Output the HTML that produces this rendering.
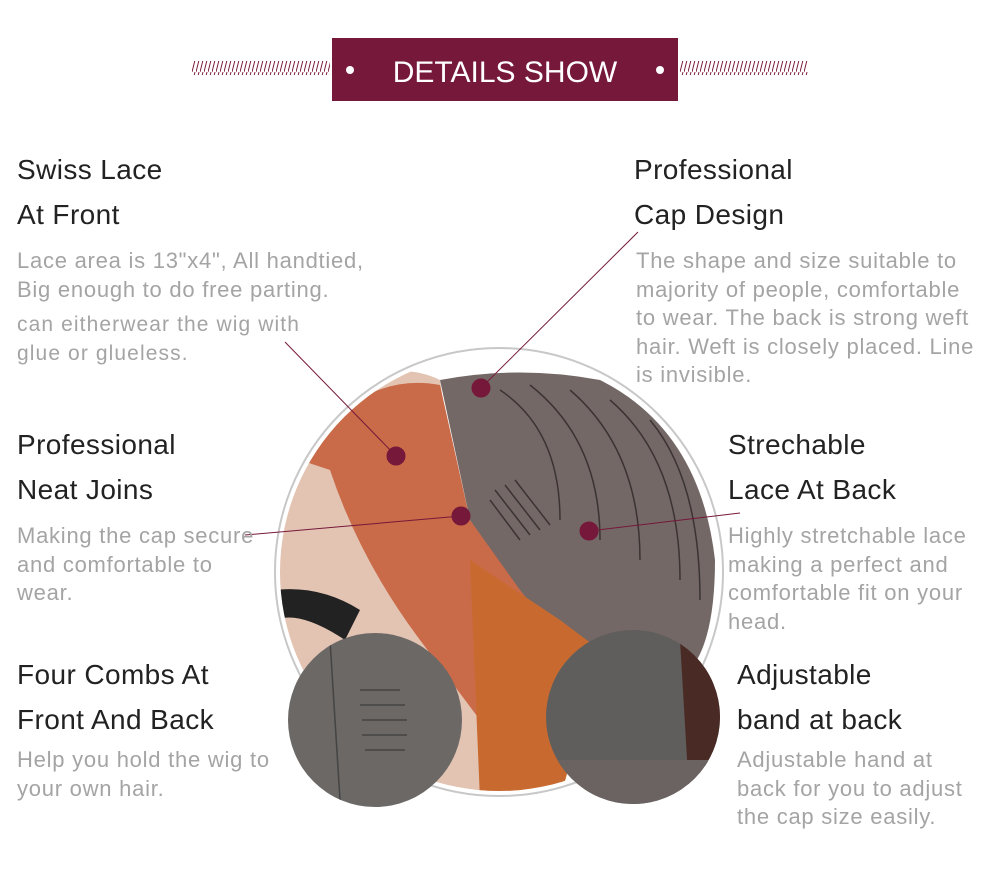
<!DOCTYPE html>
<html><head><meta charset="utf-8"><style>
body{margin:0;width:1000px;height:878px;background:#fff;position:relative;overflow:hidden;font-family:"Liberation Sans",sans-serif}
.h{position:absolute;font-size:28px;color:#222;line-height:45px;letter-spacing:0.4px}
.p{position:absolute;font-size:22px;color:#a4a4a4;line-height:28.5px;letter-spacing:0.75px;white-space:nowrap}
</style></head><body>
<svg width="1000" height="878" style="position:absolute;left:0;top:0">
<defs>
<clipPath id="big"><circle cx="499" cy="572" r="219"/></clipPath>
<clipPath id="s1"><circle cx="375" cy="720" r="87"/></clipPath>
<clipPath id="s2"><circle cx="633" cy="717" r="87"/></clipPath>
<pattern id="hatch" width="4" height="12" patternUnits="userSpaceOnUse"><line x1="3" y1="0" x2="0" y2="12" stroke="#7a1a3a" stroke-width="1"/></pattern>
</defs>
<rect x="192" y="61" width="138" height="14" fill="url(#hatch)"/>
<rect x="680" y="61" width="128" height="14" fill="url(#hatch)"/>
<rect x="332" y="38" width="346" height="63" fill="#76183a"/>
<circle cx="350" cy="70" r="4" fill="#fff"/><circle cx="660" cy="70" r="4" fill="#fff"/>
<text x="505" y="82" fill="#fff" font-size="30" text-anchor="middle" font-family="Liberation Sans">DETAILS SHOW</text>
<circle cx="499" cy="572" r="224" fill="none" stroke="#c8c8c8" stroke-width="2"/>
<g clip-path="url(#big)">
<rect x="270" y="340" width="460" height="470" fill="#fff"/>
<path d="M280 420 Q380 350 440 380 L460 520 L540 620 L560 800 L270 800 Z" fill="#e3c3b2"/>
<path d="M300 460 Q360 370 440 385 L470 520 L545 610 L540 700 L480 720 L420 640 Q360 560 330 470 Z" fill="#c96a48"/>
<path d="M440 380 Q520 365 600 380 Q700 430 715 560 Q715 640 690 670 L560 640 L520 590 L470 520 Z" fill="#736866"/>
<path d="M470 560 L560 620 L600 650 L560 800 L480 800 Z" fill="#c86a30"/>
<path d="M275 590 Q320 585 360 610 L345 640 Q300 610 275 620 Z" fill="#222"/>
<g stroke="#3b3333" stroke-width="1.5" fill="none">
<path d="M500 390 Q560 430 560 520"/><path d="M530 385 Q600 440 600 540"/><path d="M570 390 Q640 450 640 560"/><path d="M610 400 Q680 460 680 580"/><path d="M650 420 Q700 480 700 600"/>
<path d="M490 500 l30 40 M495 490 l35 45 M505 485 l35 45 M515 480 l35 45"/>
</g>
</g>
<g clip-path="url(#s1)"><rect x="280" y="630" width="200" height="180" fill="#6b6866"/>
<g stroke="#444" stroke-width="1.5" fill="none"><path d="M330 640 L340 800"/><path d="M360 690 h40 M360 705 h45 M362 720 h45 M362 735 h45 M365 750 h40"/></g></g>
<g clip-path="url(#s2)"><rect x="540" y="625" width="190" height="180" fill="#5f5e5c"/>
<path d="M680 640 L730 640 L730 810 L690 810 Z" fill="#4a2a24"/>
<path d="M550 760 L720 760 L720 810 L550 810 Z" fill="#6a6361"/></g>
<g stroke="#76183a" stroke-width="1" fill="#76183a">
<line x1="481" y1="388" x2="638" y2="232"/><line x1="396" y1="456" x2="285" y2="342"/>
<line x1="461" y1="516" x2="245" y2="535"/><line x1="589" y1="531" x2="740" y2="513"/>
<circle cx="481" cy="388" r="9"/><circle cx="396" cy="456" r="9"/><circle cx="461" cy="516" r="9"/><circle cx="589" cy="531" r="9"/>
</g>
</svg>
<div class="h" style="left:17px;top:147px">Swiss Lace<br>At Front</div>
<div class="p" style="left:17px;top:247px">Lace area is 13"x4", All handtied,<br>Big enough to do free parting.</div>
<div class="p" style="left:17px;top:311px;font-size:21px;letter-spacing:1.1px">can eitherwear the wig with<br>glue or glueless.</div>
<div class="h" style="left:634px;top:147px">Professional<br>Cap Design</div>
<div class="p" style="left:636px;top:247px">The shape and size suitable to<br>majority of people, comfortable<br>to wear. The back is strong weft<br>hair. Weft is closely placed. Line<br>is invisible.</div>
<div class="h" style="left:17px;top:422px">Professional<br>Neat Joins</div>
<div class="p" style="left:17px;top:522px">Making the cap secure<br>and comfortable to<br>wear.</div>
<div class="h" style="left:728px;top:422px">Strechable<br>Lace At Back</div>
<div class="p" style="left:728px;top:522px">Highly stretchable lace<br>making a perfect and<br>comfortable fit on your<br>head.</div>
<div class="h" style="left:17px;top:652px">Four Combs At<br>Front And Back</div>
<div class="p" style="left:17px;top:746px">Help you hold the wig to<br>your own hair.</div>
<div class="h" style="left:737px;top:652px">Adjustable<br>band at back</div>
<div class="p" style="left:737px;top:746px">Adjustable hand at<br>back for you to adjust<br>the cap size easily.</div>
</body></html>
